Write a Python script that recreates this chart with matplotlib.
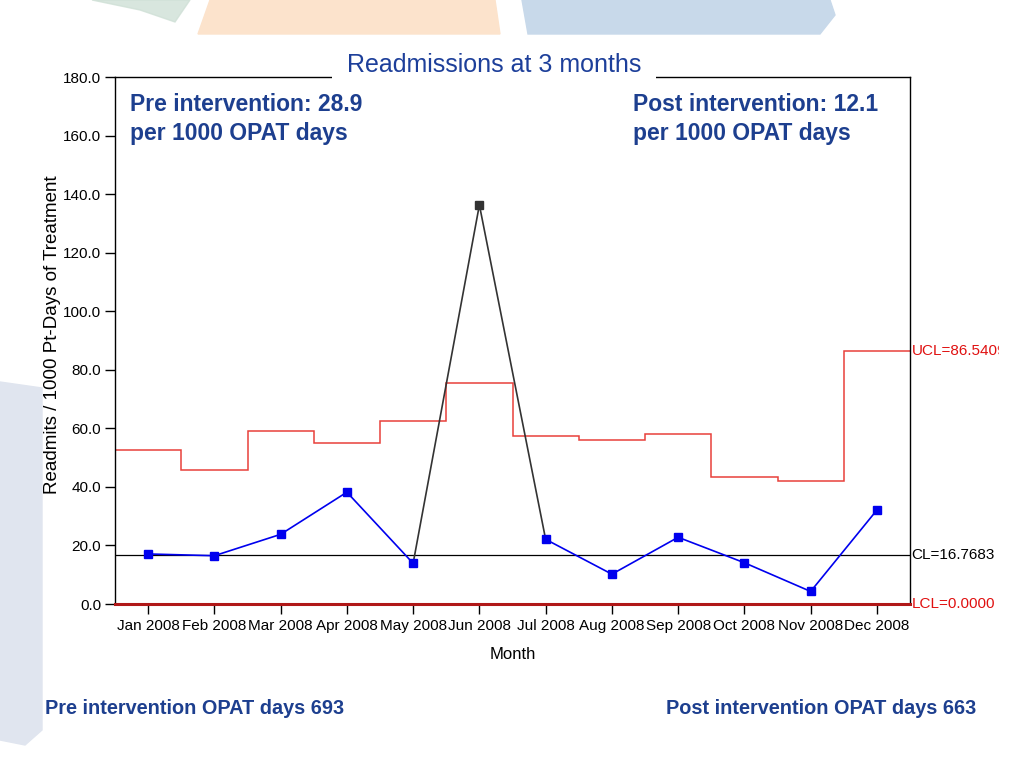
import numpy as np
import matplotlib
matplotlib.use("Agg")
import matplotlib.pyplot as plt
from matplotlib.patches import Polygon, Rectangle

months = ["Jan 2008", "Feb 2008", "Mar 2008", "Apr 2008", "May 2008", "Jun 2008",
          "Jul 2008", "Aug 2008", "Sep 2008", "Oct 2008", "Nov 2008", "Dec 2008"]
rates = [17.1, 16.5, 23.8, 38.2, 13.9, 136.3, 22.1, 10.2, 22.8, 14.1, 4.3, 32.1]
ucl = [52.6, 45.7, 59.1, 54.9, 62.5, 75.4, 57.4, 56.1, 58.1, 43.5, 42.1, 86.5409]
cl_value = 16.7683
lcl_value = 0.0
yticks = [0, 20, 40, 60, 80, 100, 120, 140, 160, 180]
out_of_control = [5]

plt.rcParams['font.family'] = ['Liberation Sans', 'DejaVu Sans']

fig = plt.figure(figsize=(10.24, 7.68), dpi=100)

# decorative slide background
bg = fig.add_axes([0, 0, 1, 1], zorder=-10)
bg.set_xlim(0, 1024); bg.set_ylim(768, 0); bg.axis('off')
bg.add_patch(Polygon([[92, 0], [190, 0], [175, 22], [140, 10]], closed=True, color='#cfe0d6', alpha=0.8))
bg.add_patch(Polygon([[210, 0], [495, 0], [500, 34], [198, 34]], closed=True, color='#fce3cc'))
bg.add_patch(Polygon([[522, 0], [830, 0], [835, 15], [820, 34], [528, 34]], closed=True, color='#c8d9ea'))
bg.add_patch(Polygon([[0, 382], [42, 388], [42, 730], [25, 745], [0, 740]], closed=True, color='#e0e5ef'))

ax = fig.add_axes([0.1123, 0.2135, 0.7764, 0.6862])
x = np.arange(len(months))
ax.set_xlim(-0.5, 11.5)
ax.set_ylim(0, 180)

# control limits
ax.stairs(ucl, edges=np.arange(-0.5, len(months) + 0.5, 1), color='#e8403a', lw=1.1, baseline=None, zorder=2)
ax.axhline(cl_value, color='black', lw=0.9, zorder=2)
ax.axhline(lcl_value, color='#b01818', lw=2.2, zorder=3, clip_on=False)

# data line: blue except segments touching out-of-control points
for i in range(len(rates) - 1):
    c = '#333333' if (i in out_of_control or i + 1 in out_of_control) else '#0000ee'
    ax.plot([x[i], x[i + 1]], [rates[i], rates[i + 1]], color=c, lw=1.2, zorder=4)
for i in range(len(rates)):
    c = '#333333' if i in out_of_control else '#0000ee'
    ax.plot(x[i], rates[i], marker='s', ms=5.5, color=c, zorder=5, ls='none')

ax.set_xticks(x)
ax.set_xticklabels(months, fontsize=11)
ax.set_yticks(yticks)
ax.set_yticklabels([f"{v:.1f}" for v in yticks], fontsize=11)
ax.tick_params(axis='both', direction='out', length=7, width=1, color='black')
ax.tick_params(axis='y', pad=3)
ax.tick_params(axis='x', pad=4)
for s in ax.spines.values():
    s.set_color('black'); s.set_linewidth(1)
ax.spines['bottom'].set_color('#b01818')

ax.set_xlabel("Month", fontsize=12, labelpad=10)
fig.text(53 / 1024, 1 - 335 / 768, "Readmits / 1000 Pt-Days of Treatment", fontsize=13.5,
         rotation=90, ha='center', va='center')

# limit labels
ax.text(1.002, 86.5409, "UCL=86.5409", transform=ax.get_yaxis_transform(), color='#e01010',
        fontsize=11, va='center', ha='left', clip_on=False)
ax.text(1.002, cl_value, "CL=16.7683", transform=ax.get_yaxis_transform(), color='black',
        fontsize=11, va='center', ha='left', clip_on=False)
ax.text(1.002, lcl_value, "LCL=0.0000", transform=ax.get_yaxis_transform(), color='#e01010',
        fontsize=11, va='center', ha='left', clip_on=False)
# mask clipped edge of UCL label as in reference
bg2 = fig.add_axes([0, 0, 1, 1], zorder=20)
bg2.set_xlim(0, 1024); bg2.set_ylim(768, 0); bg2.axis('off')
bg2.add_patch(Rectangle((999, 335), 25, 30, color='white'))

# title with white box breaking the top frame
fig.text(494 / 1024, 1 - 65 / 768, "Readmissions at 3 months", fontsize=18, color='#1d3f9a',
         ha='center', va='center', bbox=dict(facecolor='white', edgecolor='none', pad=11), zorder=30)

blue = '#1d3f8f'
fig.text(130 / 1024, 1 - 119 / 768, "Pre intervention: 28.9\nper 1000 OPAT days", fontsize=16.5,
         fontweight='bold', color=blue, ha='left', va='center', linespacing=1.35)
fig.text(633 / 1024, 1 - 119 / 768, "Post intervention: 12.1\nper 1000 OPAT days", fontsize=16.5,
         fontweight='bold', color=blue, ha='left', va='center', linespacing=1.35)
fig.text(45 / 1024, 1 - 709 / 768, "Pre intervention OPAT days 693", fontsize=14.3,
         fontweight='bold', color=blue, ha='left', va='center')
fig.text(976 / 1024, 1 - 709 / 768, "Post intervention OPAT days 663", fontsize=14.3,
         fontweight='bold', color=blue, ha='right', va='center')

fig.savefig("out.png", dpi=100)
